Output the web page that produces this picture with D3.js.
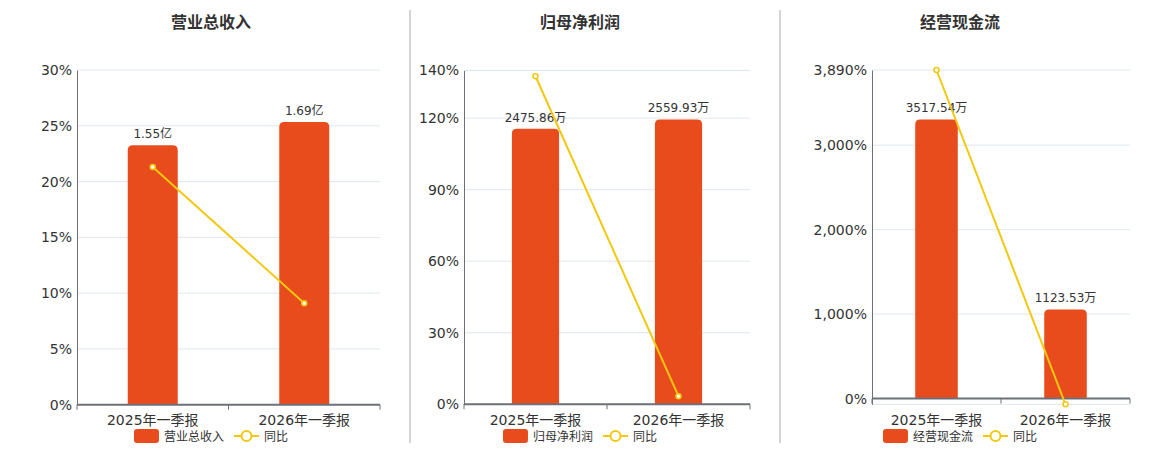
<!DOCTYPE html>
<html><head><meta charset="utf-8">
<script src="https://cdn.jsdelivr.net/npm/d3@7/dist/d3.min.js"></script>
<style>
html,body{margin:0;padding:0;background:#fff;}
svg{display:block;font-family:"DejaVu Sans",Verdana,"Noto Sans CJK SC",sans-serif;}
</style></head>
<body>
<svg id="chart" width="1160" height="450"></svg>
<script>
// ---- data ----
const categories = ["2025年一季报", "2026年一季报"];
const panelTitles = ["营业总收入", "归母净利润", "经营现金流"];
const yoyName = "同比";

const revenueValues = [1.55, 1.69];
const revenueLabels = ["1.55亿", "1.69亿"];
const revenueYoy = [21.3, 9.1];
const revenueTicks = [0, 5, 10, 15, 20, 25, 30];

const profitValues = [2475.86, 2559.93];
const profitLabels = ["2475.86万", "2559.93万"];
const profitYoy = [137.6, 3.4];
const profitTicks = [0, 30, 60, 90, 120, 140];

const cashValues = [3517.54, 1123.53];
const cashLabels = ["3517.54万", "1123.53万"];
const cashYoy = [3890, -68.06];
const cashTicks = [0, 1000, 2000, 3000, 3890];

// ---- layout (positions / styles) ----
const panels = [
  {title: panelTitles[0], values: revenueValues, labels: revenueLabels, yoy: revenueYoy, ticks: revenueTicks,
   left: 77, right: 380, top: 70, bottom: 404.7, pctDomain: [0, 30], barMax: 2.0, center: 211},
  {title: panelTitles[1], values: profitValues, labels: profitLabels, yoy: profitYoy, ticks: profitTicks,
   left: 464, right: 750, top: 70.5, bottom: 404.3, pctDomain: [0, 140], barMax: 3000, center: 580},
  {title: panelTitles[2], values: cashValues, labels: cashLabels, yoy: cashYoy, ticks: cashTicks,
   left: 872, right: 1130, top: 70, bottom: 404.3, pctDomain: [-68.06, 3890], barMax: 4140, center: 960}
];

const BAR = "#E84C1D", LINE = "#F2C80F", GRID = "#E0E6F1", AXIS = "#6E7079", TXT = "#333";
const svg = d3.select("#chart");

// separators
[410, 780].forEach(x => svg.append("line").attr("x1", x).attr("x2", x).attr("y1", 10).attr("y2", 443)
  .attr("stroke", "#aaa").attr("stroke-width", 1));

const fmt = d3.format(",");

panels.forEach(p => {
  const g = svg.append("g");
  const x = d3.scaleBand().domain(categories).range([p.left, p.right]).padding(0);
  const y = d3.scaleLinear().domain(p.pctDomain).range([p.bottom, p.top]);
  const yBar = d3.scaleLinear().domain([0, p.barMax]).range([y(0), p.top]);

  // title
  g.append("text").attr("x", p.center).attr("y", 28).attr("text-anchor", "middle")
    .attr("font-size", 16).attr("font-weight", "bold").attr("fill", TXT).text(p.title);

  // grid
  g.selectAll(".grid").data(p.ticks.concat(p.pctDomain[0] < 0 ? [p.pctDomain[0]] : [])).enter().append("line")
    .attr("x1", p.left).attr("x2", p.right).attr("y1", d => y(d)).attr("y2", d => y(d))
    .attr("stroke", GRID).attr("stroke-width", 1);

  // y axis
  const ya = g.append("g").attr("transform", `translate(${p.left},0)`)
    .call(d3.axisLeft(y).tickValues(p.ticks).tickSize(0).tickPadding(5).tickFormat(d => fmt(d) + "%"));
  ya.select(".domain").attr("stroke", AXIS).attr("stroke-width", 1);
  ya.selectAll("text").attr("font-size", 14).attr("fill", TXT)
    .attr("font-family", '"DejaVu Sans",Verdana,sans-serif');

  // bars
  const bw = x.bandwidth() * 0.33;
  g.selectAll(".bar").data(p.values).enter().append("path")
    .attr("d", (d, i) => {
      const x0 = x(categories[i]) + (x.bandwidth() - bw) / 2, x1 = x0 + bw;
      const yt = yBar(d), yb = yBar(0), r = 5;
      return `M${x0},${yb}L${x0},${yt + r}Q${x0},${yt} ${x0 + r},${yt}L${x1 - r},${yt}Q${x1},${yt} ${x1},${yt + r}L${x1},${yb}Z`;
    })
    .attr("fill", BAR);

  // bar labels
  g.selectAll(".lbl").data(p.values).enter().append("text")
    .attr("x", (d, i) => x(categories[i]) + x.bandwidth() / 2)
    .attr("y", d => yBar(d) - 7).attr("text-anchor", "middle")
    .attr("font-size", 12).attr("fill", TXT).text((d, i) => p.labels[i]);

  // x axis line at zero
  const y0 = y(0);
  g.append("line").attr("x1", p.left).attr("x2", p.right).attr("y1", y0).attr("y2", y0)
    .attr("stroke", AXIS).attr("stroke-width", 2);
  const bounds = categories.map(c => x(c)).concat([p.right]);
  g.selectAll(".xt").data(bounds).enter().append("line")
    .attr("x1", d => d).attr("x2", d => d).attr("y1", y0).attr("y2", y0 + 5)
    .attr("stroke", AXIS).attr("stroke-width", 1);
  g.selectAll(".xl").data(categories).enter().append("text")
    .attr("x", d => x(d) + x.bandwidth() / 2).attr("y", 425).attr("text-anchor", "middle")
    .attr("font-size", 14).attr("fill", TXT).text(d => d);

  // yoy line
  const line = d3.line().x((d, i) => x(categories[i]) + x.bandwidth() / 2).y(d => y(d));
  g.append("path").datum(p.yoy).attr("d", line).attr("fill", "none")
    .attr("stroke", LINE).attr("stroke-width", 2);
  g.selectAll(".pt").data(p.yoy).enter().append("circle")
    .attr("cx", (d, i) => x(categories[i]) + x.bandwidth() / 2).attr("cy", d => y(d))
    .attr("r", 2.5).attr("fill", "#fff").attr("stroke", LINE).attr("stroke-width", 1.5);

  // legend
  const lg = g.append("g");
  const tmp = lg.append("text").attr("font-size", 12).text(p.title);
  const w1 = tmp.node().getComputedTextLength(); tmp.remove();
  const tmp2 = lg.append("text").attr("font-size", 12).text(yoyName);
  const w2 = tmp2.node().getComputedTextLength(); tmp2.remove();
  const total = 25 + 5 + w1 + 10 + 25 + 5 + w2;
  let lx = p.center - total / 2;
  lg.append("rect").attr("x", lx).attr("y", 429).attr("width", 25).attr("height", 14).attr("rx", 3)
    .attr("fill", BAR);
  lg.append("text").attr("x", lx + 30).attr("y", 440.5).attr("font-size", 12).attr("fill", TXT).text(p.title);
  lx += 30 + w1 + 10;
  lg.append("line").attr("x1", lx).attr("x2", lx + 25).attr("y1", 436).attr("y2", 436)
    .attr("stroke", LINE).attr("stroke-width", 2);
  lg.append("circle").attr("cx", lx + 12.5).attr("cy", 436).attr("r", 5).attr("fill", "#fff")
    .attr("stroke", LINE).attr("stroke-width", 2);
  lg.append("text").attr("x", lx + 30).attr("y", 440.5).attr("font-size", 12).attr("fill", TXT).text(yoyName);
});
</script>
</body></html>
